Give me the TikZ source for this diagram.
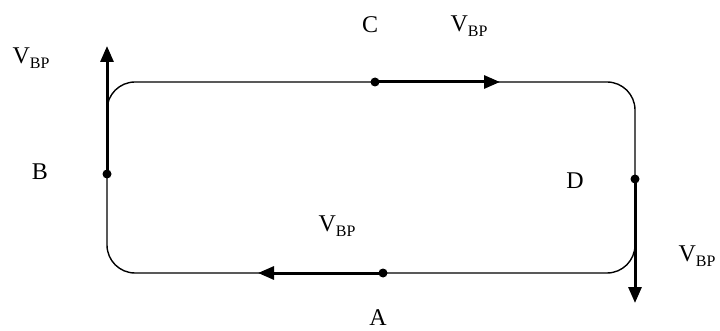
\documentclass[tikz,border=0pt]{standalone}
\usepackage{fontspec}
\setmainfont{Liberation Serif}
\usetikzlibrary{arrows.meta}
\newcommand{\vbp}{V\raisebox{-0.4ex}{\fontsize{16}{18}\selectfont BP}}

\begin{document}
\begin{tikzpicture}[x=1pt, y=-1pt, font=\fontsize{24}{28}\selectfont,
	loop/.style={line width=1.4pt, rounded corners=28pt},
	vel/.style={line width=3pt, -{Triangle[length=16pt,width=13pt]}}]
	\useasboundingbox (0,0) rectangle (720,331);
	\draw[loop] (107,82) rectangle (635,273);
	
	\coordinate (A) at (383,273);
	\coordinate (B) at (107,174);
	\coordinate (C) at (375,82);
	\coordinate (D) at (635,179);
	\coordinate (a) at (258,273);
	\coordinate (b) at (107,46);
	\coordinate (c) at (500,82);
	\coordinate (d) at (635,303);
	
	\foreach \u\v in {A/a, B/b, C/c, D/d}  % velocity arrows
	{	\draw[vel] (\u) -- (\v);
		\fill (\u) circle (4.5pt);
	}
	
	\node (lA) at (378,318) {A};
	\node (lB) at (40,172) {B};
	\node (lC) at (370,25) {C};
	\node (lD) at (575,181) {D};
	\node (vB) at (31,58) {\vbp};
	\node (vC) at (469,26) {\vbp};
	\node (vD) at (697,256) {\vbp};
	\node (vA) at (337,226) {\vbp};
\end{tikzpicture}
\end{document}
